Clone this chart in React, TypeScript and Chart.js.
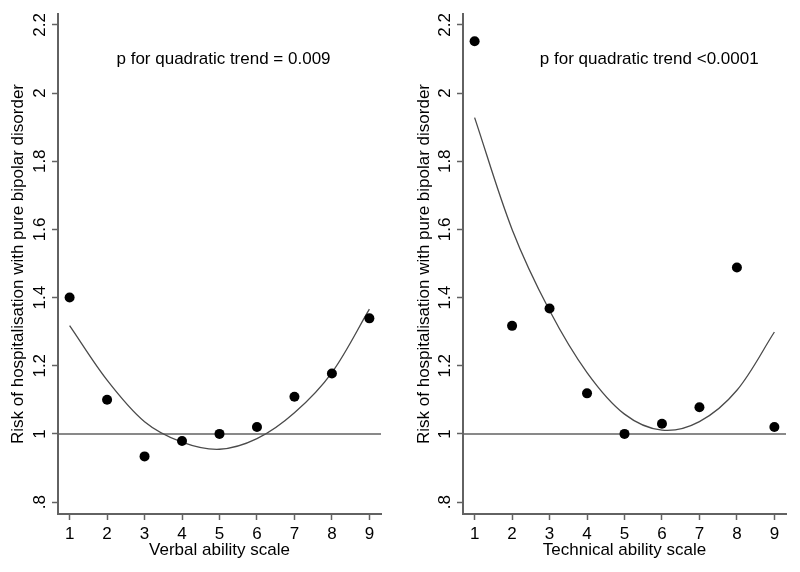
import React, { useEffect, useRef } from "react";
import { Chart, registerables } from "chart.js";

Chart.register(...registerables);

// ---- data ----
const abilityLevels = [1, 2, 3, 4, 5, 6, 7, 8, 9];
const yTicks = [0.8, 1, 1.2, 1.4, 1.6, 1.8, 2, 2.2];
const yTickLabels = [".8", "1", "1.2", "1.4", "1.6", "1.8", "2", "2.2"];

const verbalRisk = [1.40, 1.10, 0.934, 0.979, 1.0, 1.02, 1.109, 1.177, 1.339];
const verbalFit = [1.318, 1.158, 1.036, 0.976, 0.955, 0.986, 1.062, 1.18, 1.366];

const technicalRisk = [2.152, 1.317, 1.368, 1.119, 1.0, 1.03, 1.078, 1.488, 1.02];
const technicalFit = [1.928, 1.60, 1.362, 1.18, 1.058, 1.011, 1.036, 1.128, 1.299];

const referenceLevel = 1;
const yTitle = "Risk of hospitalisation with pure bipolar disorder";
const verbalNote = "p for quadratic trend = 0.009";
const technicalNote = "p for quadratic trend <0.0001";

const X_MIN = 0.69;
const X_MAX = 9.31;
const Y_MIN = 0.765;
const Y_MAX = 2.232;

const FONT_FAMILY = '"Liberation Sans", Arial, sans-serif';
const AXIS_COLOR = "#626262";

type PanelProps = {
  risk: number[];
  fit: number[];
  xTitle: string;
  note: string;
  noteX: number;
  noteY: number;
  yAxisWidth: number;
  padRight: number;
  yTitlePad: number;
};

function Panel(props: PanelProps) {
  const ref = useRef<HTMLCanvasElement | null>(null);
  useEffect(() => {
    if (!ref.current) return;
    const { risk, fit, xTitle, note, noteX, noteY, yAxisWidth, padRight, yTitlePad } = props;

    const customText = {
      id: "customText",
      afterDraw(chart: any) {
        const ctx = chart.ctx;
        const ys = chart.scales.y;
        const xs = chart.scales.x;
        ctx.save();
        ctx.font = `17px ${FONT_FAMILY}`;
        ctx.fillStyle = "#000";
        yTicks.forEach((v, i) => {
          const py = ys.getPixelForValue(v);
          ctx.save();
          ctx.translate(chart.chartArea.left - 13, py);
          ctx.rotate(-Math.PI / 2);
          ctx.textAlign = "center";
          ctx.textBaseline = "alphabetic";
          ctx.fillText(yTickLabels[i], 0, 0);
          ctx.restore();
        });
        ctx.textAlign = "center";
        ctx.textBaseline = "middle";
        ctx.fillText(note, xs.getPixelForValue(noteX), ys.getPixelForValue(noteY));
        ctx.restore();
      },
    };

    const chart = new Chart(ref.current, {
      type: "scatter",
      data: {
        datasets: [
          {
            data: abilityLevels.map((x, i) => ({ x, y: risk[i] })),
            pointRadius: 5,
            pointBackgroundColor: "#000",
            pointBorderWidth: 0,
            showLine: false,
          },
          {
            data: abilityLevels.map((x, i) => ({ x, y: fit[i] })),
            showLine: true,
            pointRadius: 0,
            borderColor: "#4a4a4a",
            borderWidth: 1.3,
            tension: 0.33,
            fill: false,
          },
          {
            data: [
              { x: X_MIN, y: referenceLevel },
              { x: X_MAX, y: referenceLevel },
            ],
            showLine: true,
            pointRadius: 0,
            borderColor: AXIS_COLOR,
            borderWidth: 1.5,
            fill: false,
          },
        ],
      },
      options: {
        responsive: false,
        animation: false,
        events: [],
        layout: { padding: { left: 0, right: padRight, top: 14, bottom: 0 } },
        plugins: { legend: { display: false }, tooltip: { enabled: false } },
        scales: {
          x: {
            type: "linear",
            min: X_MIN,
            max: X_MAX,
            afterBuildTicks: (s: any) => {
              s.ticks = abilityLevels.map((v) => ({ value: v }));
            },
            afterFit: (s: any) => {
              s.height = 58;
            },
            grid: {
              drawOnChartArea: false,
              drawTicks: true,
              tickLength: 6,
              tickColor: AXIS_COLOR,
              tickWidth: 1.5,
            },
            border: { display: true, color: AXIS_COLOR, width: 2 },
            ticks: {
              autoSkip: false,
              maxRotation: 0,
              minRotation: 0,
              padding: 4,
              color: "#000",
              font: { family: FONT_FAMILY, size: 17 },
              callback: (v: any) => String(v),
            },
            title: {
              display: true,
              text: xTitle,
              color: "#000",
              font: { family: FONT_FAMILY, size: 17 },
              padding: { top: 0, bottom: 11 },
            },
          },
          y: {
            type: "linear",
            min: Y_MIN,
            max: Y_MAX,
            afterBuildTicks: (s: any) => {
              s.ticks = yTicks.map((v) => ({ value: v }));
            },
            afterFit: (s: any) => {
              s.width = yAxisWidth;
            },
            grid: {
              drawOnChartArea: false,
              drawTicks: true,
              tickLength: 6,
              tickColor: AXIS_COLOR,
              tickWidth: 1.5,
            },
            border: { display: true, color: AXIS_COLOR, width: 2 },
            ticks: { display: false },
            title: {
              display: true,
              text: yTitle,
              color: "#000",
              font: { family: FONT_FAMILY, size: 17 },
              padding: { top: yTitlePad, bottom: 0 },
            },
          },
        },
      },
      plugins: [customText],
    } as any);
    return () => chart.destroy();
  }, []);
  return <canvas ref={ref} width={400} height={572} style={{ display: "block" }} />;
}

export default function App() {
  return (
    <div style={{ position: "absolute", left: 0, top: 0, width: 800, height: 572, background: "#fff", display: "flex" }}>
      <Panel
        risk={verbalRisk}
        fit={verbalFit}
        xTitle="Verbal ability scale"
        note={verbalNote}
        noteX={5.107}
        noteY={2.1}
        yAxisWidth={58}
        padRight={19}
        yTitlePad={8}
      />
      <Panel
        risk={technicalRisk}
        fit={technicalFit}
        xTitle="Technical ability scale"
        note={technicalNote}
        noteX={5.66}
        noteY={2.1}
        yAxisWidth={63}
        padRight={14}
        yTitlePad={14}
      />
    </div>
  );
}
